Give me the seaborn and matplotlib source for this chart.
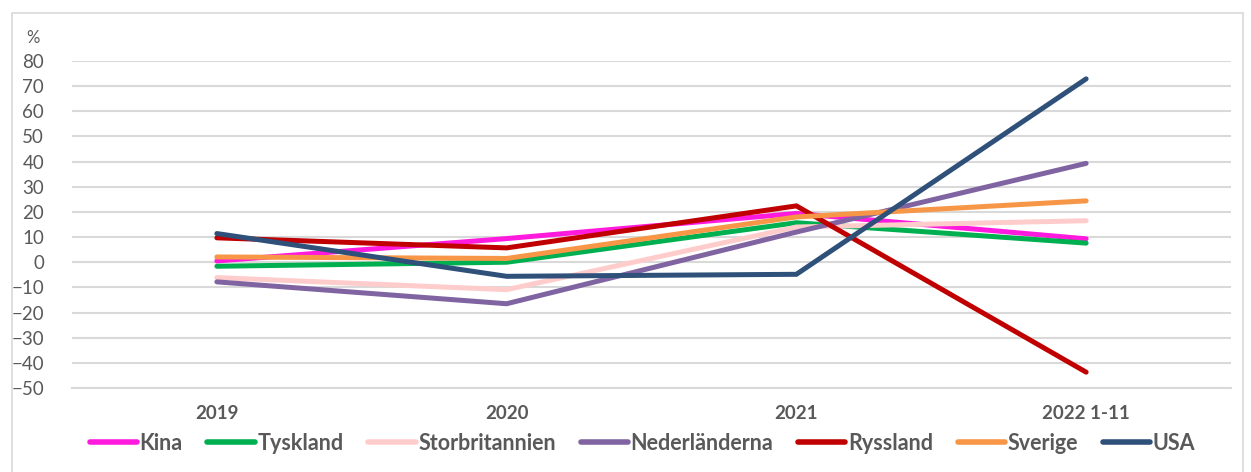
import matplotlib
matplotlib.use("Agg")
import matplotlib.pyplot as plt
import pandas as pd
import seaborn as sns
from matplotlib.patches import Rectangle

# Årlig förändring (%) per land
years = ["2019", "2020", "2021", "2022 1-11"]
kina = [0.5, 9.4, 19.4, 9.3]
tyskland = [-1.6, 0.0, 15.7, 7.6]
storbritannien = [-6.1, -10.9, 14.0, 16.5]
nederlanderna = [-7.8, -16.5, 12.0, 39.3]
ryssland = [9.7, 5.7, 22.4, -43.7]
sverige = [2.1, 1.5, 18.0, 24.4]
usa = [11.4, -5.6, -4.8, 72.9]

countries = ["Kina", "Tyskland", "Storbritannien", "Nederländerna", "Ryssland", "Sverige", "USA"]
series = [kina, tyskland, storbritannien, nederlanderna, ryssland, sverige, usa]
colors = ["#FF1ADD", "#00B050", "#FFCCCC", "#8064A2", "#C00000", "#F79646", "#2E5079"]

df = pd.DataFrame(
    [(country, year, value) for country, values in zip(countries, series) for year, value in zip(years, values)],
    columns=["land", "år", "värde"],
)

sns.set_theme(style="white")
plt.rcParams["font.family"] = ["Lato", "DejaVu Sans"]
text_gray = "#595959"
grid_gray = "#D9D9D9"

fig = plt.figure(figsize=(12.51, 4.72), dpi=100)
fig.patches.append(Rectangle((12 / 1251, -0.01), 1231 / 1251, 1 - 13 / 472 + 0.01, transform=fig.transFigure,
                             fill=False, edgecolor=grid_gray, linewidth=1.2))
ax = fig.add_axes([72 / 1251, 1 - 388 / 472, (1231 - 72) / 1251, (388 - 61) / 472])

sns.lineplot(
    data=df, x="år", y="värde", hue="land", hue_order=countries,
    palette=dict(zip(countries, colors)), sort=False, linewidth=3.6,
    solid_capstyle="round", solid_joinstyle="miter", ax=ax, legend=True,
)

ax.set_xlim(-0.5, 3.5)
ax.set_ylim(-50, 80)
ax.set_yticks(range(-50, 81, 10))
ax.yaxis.grid(True, color=grid_gray, linewidth=1.5)
ax.set_axisbelow(True)
for side in ["left", "right", "top"]:
    ax.spines[side].set_visible(False)
ax.spines["bottom"].set_color(grid_gray)
ax.spines["bottom"].set_linewidth(1.5)
ax.tick_params(axis="both", length=0)
ax.tick_params(axis="y", labelsize=13.5, labelcolor=text_gray, pad=20)
ax.tick_params(axis="x", labelsize=13.5, labelcolor=text_gray, pad=12)
for label in ax.get_xticklabels():
    label.set_fontweight("bold")
ax.set_xlabel("")
ax.set_ylabel("")
fig.text(26 / 1251, 1 - 38 / 472, "%", fontsize=12, color=text_gray, va="center", ha="left")

handles, labels = ax.get_legend_handles_labels()
ax.get_legend().remove()
for h in handles:
    h.set_linewidth(4)
    h.set_solid_capstyle("round")
leg = fig.legend(
    handles, labels, loc="center", bbox_to_anchor=(0.5 + 17 / 1251, 1 - 443 / 472), ncol=7, frameon=False,
    handlelength=2.2, handletextpad=0.12, columnspacing=1.15, prop={"size": 15.5, "weight": "bold"},
)
for t in leg.get_texts():
    t.set_color(text_gray)

fig.savefig("out.png", dpi=100)
